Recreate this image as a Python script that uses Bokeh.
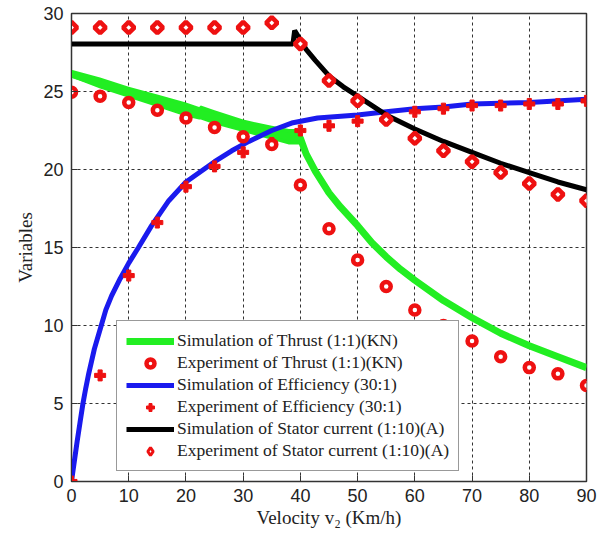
import math
from bokeh.plotting import figure
from bokeh.models import Legend, LegendItem, FixedTicker, Range1d
from bokeh.embed import file_html
from bokeh.resources import INLINE

# Simulation of thrust (1:1)(KN): wide band below 40 km/h, then a curve
band_x = [0, 5, 10, 15, 20, 22.3, 22.6, 25, 30, 35, 38, 39.5, 40.2]
band_upper = [26.4, 25.9, 25.3, 24.8, 24.3, 24.0, 24.1, 23.8, 23.2, 22.8, 22.6, 22.6, 22.0]
band_lower = [25.9, 25.2, 24.6, 24.0, 23.4, 23.2, 23.2, 22.9, 22.4, 21.9, 21.6, 21.6, 21.6]
thrust_sim_x = [0, 10, 20, 30, 38, 39.5, 40, 41, 42.6, 45, 47, 50, 52.5, 55, 57.5, 60, 65, 70, 75, 80, 85, 90]
thrust_sim_y = [26.1, 24.95, 23.85, 22.8, 22.1, 22.2, 22.0, 21.0, 19.9, 18.5, 17.6, 16.4, 15.3, 14.4, 13.6, 12.9, 11.6, 10.5, 9.5, 8.7, 8.0, 7.3]

# Experiment points
exp_x = [0, 5, 10, 15, 20, 25, 30, 35, 40, 45, 50, 55, 60, 65, 70, 75, 80, 85, 90]
thrust_exp = [24.95, 24.7, 24.3, 23.8, 23.3, 22.7, 22.1, 21.6, 19.0, 16.2, 14.2, 12.5, 11.0, 10.0, 9.0, 8.0, 7.3, 6.9, 6.15]
eff_exp = [0.0, 6.8, 13.2, 16.6, 18.9, 20.2, 21.1, 21.7, 22.5, 22.8, 23.1, 23.2, 23.7, 23.9, 24.1, 24.1, 24.2, 24.2, 24.4]
stator_exp = [29.1, 29.1, 29.1, 29.1, 29.1, 29.1, 29.1, 29.4, 28.05, 25.7, 24.4, 23.2, 22.0, 21.2, 20.5, 19.8, 19.1, 18.4, 18.0]

# Simulation of efficiency (30:1)
eff_sim_x = [0, 0.5, 1, 1.5, 2, 2.5, 3, 4, 5.2, 6, 7, 8.5, 10, 11.7, 14, 17, 20, 25, 28, 31, 35, 38.7, 43, 50, 55, 60, 65, 70, 80, 90]
eff_sim_y = [0, 1.3, 2.6, 3.8, 5.0, 6.0, 6.9, 8.5, 10.0, 11.0, 11.9, 13.0, 14.0, 15.0, 16.4, 18.0, 19.2, 20.5, 21.2, 21.8, 22.5, 23.0, 23.3, 23.5, 23.7, 23.9, 24.0, 24.2, 24.3, 24.5]

# Simulation of stator current (1:10)(A)
stator_sim_x = [0, 38.7, 39.0, 40, 41, 42.6, 45, 47.5, 50, 55, 60, 65, 70, 75, 80, 85, 90]
stator_sim_y = [28.05, 28.05, 28.9, 28.3, 27.7, 27.0, 26.0, 25.3, 24.7, 23.5, 22.6, 21.8, 21.1, 20.4, 19.8, 19.2, 18.7]

x_ticks = [0, 10, 20, 30, 40, 50, 60, 70, 80, 90]
y_ticks = [0, 5, 10, 15, 20, 25, 30]

serif = "Liberation Serif"
sans = "Liberation Sans"
RED = "#ee1111"

p = figure(width=606, height=540, output_backend="svg", toolbar_location=None,
           x_range=Range1d(0, 90), y_range=Range1d(0, 30),
           min_border_left=71, min_border_right=20, min_border_top=13, min_border_bottom=59)
p.background_fill_color = "white"
p.border_fill_color = "white"
p.outline_line_color = "#333333"
p.outline_line_width = 1.5

for ax in (p.xaxis[0], p.yaxis[0]):
    ax.major_label_text_font = sans
    ax.major_label_text_font_size = "18px"
    ax.major_label_text_color = "#222222"
    ax.axis_label_text_font = serif
    ax.axis_label_text_font_size = "19px"
    ax.axis_label_text_font_style = "normal"
    ax.axis_label_text_color = "#222222"
    ax.major_tick_in = 6
    ax.major_tick_out = 0
    ax.minor_tick_line_color = None
    ax.axis_line_color = "#333333"
    ax.major_tick_line_color = "#333333"

p.xaxis[0].ticker = FixedTicker(ticks=x_ticks)
p.yaxis[0].ticker = FixedTicker(ticks=y_ticks)
p.xaxis[0].axis_label = "Velocity v\u2082 (Km/h)"
p.yaxis[0].axis_label = "Variables"
p.xaxis[0].axis_label_standoff = 2
p.yaxis[0].axis_label_standoff = 4
p.xaxis[0].major_label_standoff = 7
p.yaxis[0].major_label_standoff = 8

p.xgrid.ticker = FixedTicker(ticks=x_ticks)
p.ygrid.ticker = FixedTicker(ticks=y_ticks)
for g in (p.xgrid[0], p.ygrid[0]):
    g.grid_line_color = "#333333"
    g.grid_line_dash = "3 3"
    g.grid_line_width = 1

GREEN = "#22ee22"
p.varea(x=band_x, y1=band_lower, y2=band_upper, fill_color=GREEN)
r_ts = p.line(thrust_sim_x, thrust_sim_y, line_color=GREEN, line_width=7)
r_es = p.line(eff_sim_x, eff_sim_y, line_color="#1a1aee", line_width=5)
r_ss = p.line(stator_sim_x, stator_sim_y, line_color="black", line_width=5)

r_ee = p.scatter(exp_x, eff_exp, marker="plus", size=11, line_color=RED,
                 fill_color=RED, line_width=1)
r_te = p.scatter(exp_x, thrust_exp, marker="circle", size=9, line_color=RED,
                 line_width=4.5, fill_color="white")
# diamond glyph used for the legend key (hidden under the rotated squares in the plot)
r_se_key = p.scatter(exp_x, stator_exp, marker="diamond", size=8,
                     line_color=RED, line_width=3, fill_color="white")
r_se = p.scatter(exp_x, stator_exp, marker="square", size=8, angle=math.pi / 4,
                 line_color=RED, line_width=4.5, fill_color="white")

legend = Legend(items=[
    LegendItem(label="Simulation of Thrust (1:1)(KN)", renderers=[r_ts]),
    LegendItem(label="Experiment of Thrust (1:1)(KN)", renderers=[r_te]),
    LegendItem(label="Simulation of Efficiency (30:1)", renderers=[r_es]),
    LegendItem(label="Experiment of Efficiency (30:1)", renderers=[r_ee]),
    LegendItem(label="Simulation of Stator current (1:10)(A)", renderers=[r_ss]),
    LegendItem(label="Experiment of Stator current (1:10)(A)", renderers=[r_se_key]),
], location=(45, 10))
legend.label_text_font = serif
legend.label_text_font_size = "17.5px"
legend.label_text_color = "#222222"
legend.label_height = 20
legend.glyph_height = 20
legend.glyph_width = 48
legend.spacing = 1
legend.padding = 9
legend.margin = 0
legend.label_standoff = 3
legend.border_line_color = "#333333"
legend.border_line_width = 1
legend.background_fill_alpha = 1
p.add_layout(legend, "center")

open("out.html", "w").write(file_html(p, INLINE))
